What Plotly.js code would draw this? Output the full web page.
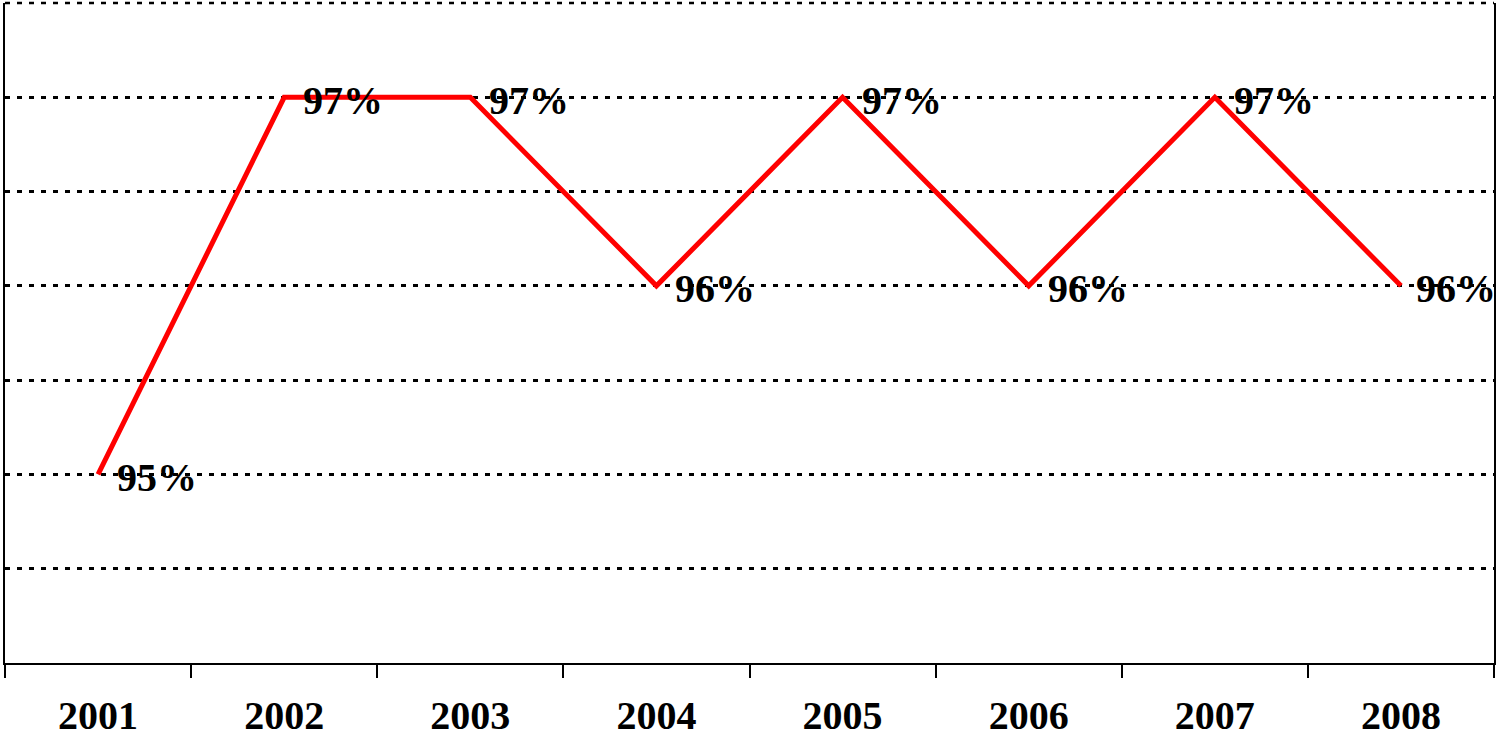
<!DOCTYPE html>
<html><head><meta charset="utf-8">
<script src="https://cdn.plot.ly/plotly-3.0.1.min.js"></script>
<style>html,body{margin:0;padding:0;background:#fff}#chart{width:1497px;height:742px}</style>
</head><body><div id="chart"></div>
<script>
const years = ['2001','2002','2003','2004','2005','2006','2007','2008'];
const rates = [95, 97, 97, 96, 97, 96, 97, 96];
const labels = ['95%','97%','97%','96%','97%','96%','97%','96%'];

function mkFont(size) {
  return {family: '"Liberation Serif", "Times New Roman", serif', size: size, color: '#000', weight: 'bold'};
}

const lineTrace = {
  x: years, y: rates, type: 'scatter', mode: 'lines',
  line: {color: '#FF0000', width: 5},
  hoverinfo: 'none', cliponaxis: false
};

const annotations = years.map((yr, i) => ({
  x: i, y: rates[i], xref: 'x', yref: 'y', text: labels[i],
  showarrow: false, xanchor: 'left', yanchor: 'middle',
  xshift: i === years.length - 1 ? 13 : 17, yshift: -3,
  font: mkFont(40)
}));

const layout = {
  width: 1497, height: 742,
  margin: {l: 5, r: 3, t: 3, b: 79},
  paper_bgcolor: '#fff', plot_bgcolor: '#fff',
  showlegend: false,
  xaxis: {
    type: 'category', range: [-0.5, 7.5], fixedrange: true,
    showline: true, linecolor: '#000', linewidth: 2,
    ticks: 'outside', tickson: 'boundaries', ticklen: 13, tickwidth: 2, tickcolor: '#000',
    showgrid: false, zeroline: false,
    tickfont: mkFont(40), ticklabelstandoff: 16
  },
  yaxis: {
    range: [94, 97.5], dtick: 0.5, tick0: 94, fixedrange: true,
    showline: true, linecolor: '#000', linewidth: 2, mirror: true,
    showticklabels: false, ticks: '',
    showgrid: true, gridcolor: '#000', gridwidth: 2.5, griddash: '5px,7px',
    zeroline: false
  },
  shapes: [{
    type: 'line', xref: 'paper', yref: 'paper', x0: 0, x1: 1, y0: 1, y1: 1,
    line: {color: '#000', width: 2.5, dash: '5px,7px'}, layer: 'below'
  }],
  annotations: annotations
};

Plotly.newPlot('chart', [lineTrace], layout, {displayModeBar: false});
</script>
</body></html>
